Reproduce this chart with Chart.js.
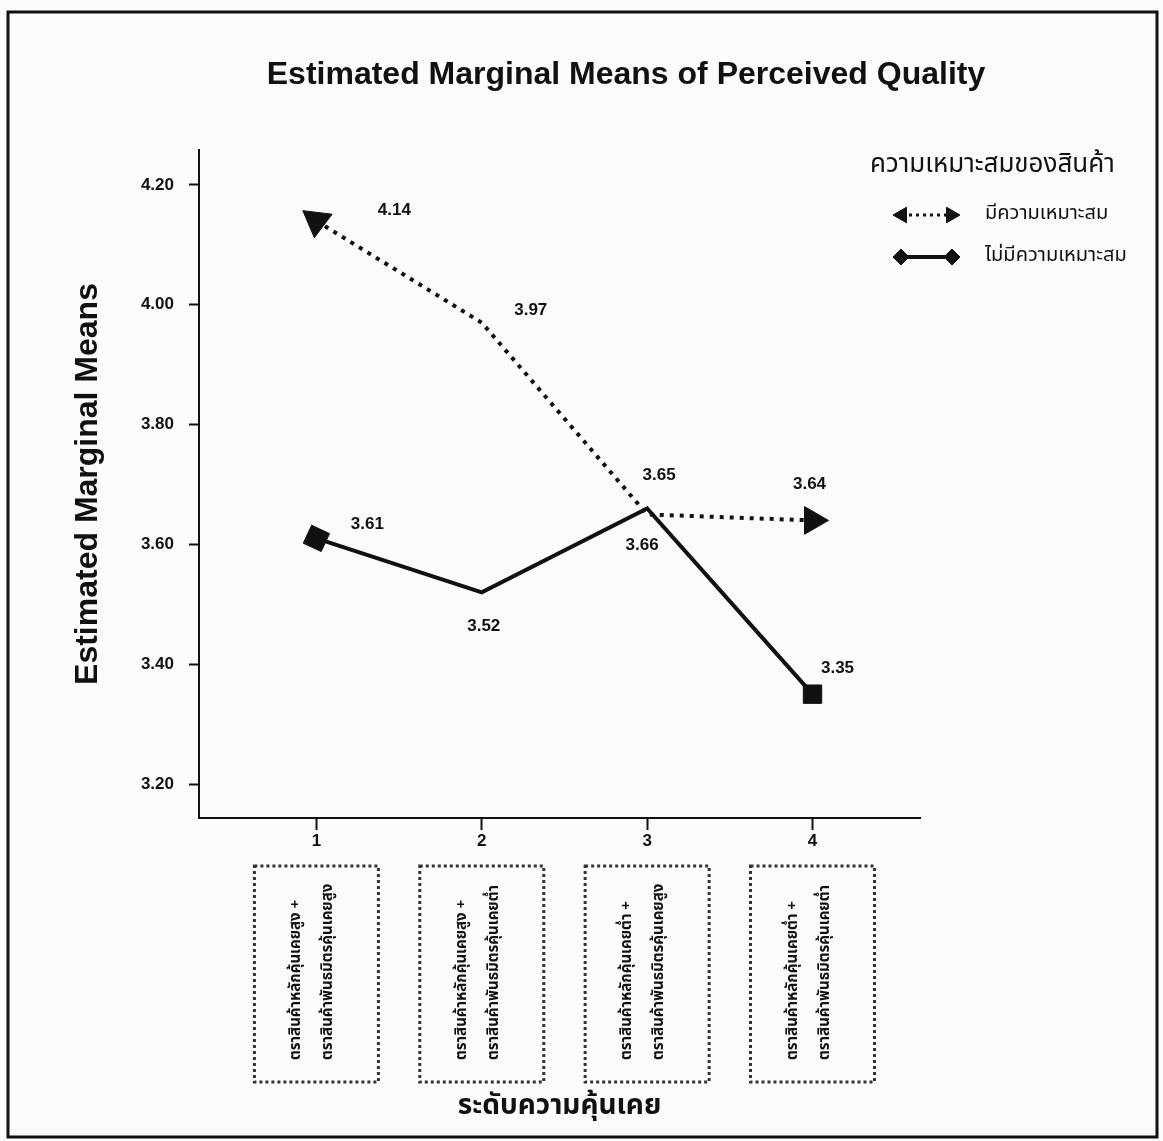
<!DOCTYPE html>
<html>
<head>
<meta charset="utf-8">
<script src="https://cdn.jsdelivr.net/npm/chart.js@4.4.1/dist/chart.umd.min.js"></script>
<style>
  html, body { margin: 0; padding: 0; background: #fbfbfb; }
</style>
</head>
<body>
<canvas id="emm_chart" width="1163" height="1141"></canvas>
<script>
// ระดับความคุ้นเคย (x) และค่าเฉลี่ยของแต่ละกลุ่ม
const levels = [1, 2, 3, 4];
const fitMeans = [4.14, 3.97, 3.65, 3.64];
const noFitMeans = [3.61, 3.52, 3.66, 3.35];
const yTickValues = [3.2, 3.4, 3.6, 3.8, 4.0, 4.2];
const seriesNames = ['มีความเหมาะสม', 'ไม่มีความเหมาะสม'];
const legendTitle = 'ความเหมาะสมของสินค้า';
const levelLines = [
    ['ตราสินค้าหลักคุ้นเคยสูง +', 'ตราสินค้าพันธมิตรคุ้นเคยสูง'],
    ['ตราสินค้าหลักคุ้นเคยสูง +', 'ตราสินค้าพันธมิตรคุ้นเคยต่ำ'],
    ['ตราสินค้าหลักคุ้นเคยต่ำ +', 'ตราสินค้าพันธมิตรคุ้นเคยสูง'],
    ['ตราสินค้าหลักคุ้นเคยต่ำ +', 'ตราสินค้าพันธมิตรคุ้นเคยต่ำ'],
];

const INK = '#111';
const LATIN = "'Liberation Sans', Arial, sans-serif";
const NARROW = "'Liberation Sans Narrow', 'Liberation Sans', sans-serif";
const THAI = "'Noto Sans Thai', 'Loma', 'Garuda', 'Noto Sans', 'DejaVu Sans', sans-serif";

// ตำแหน่งป้ายตัวเลขเทียบกับจุด (dx, dy)
const labelOffsets = [
    [[78, -11], [49, -12], [12, -39], [-3, -36]],
    [[51, -14], [2, 34], [-5, 37], [25, -26]],
];

const decor = {
    id: 'decor',
    beforeDraw(chart) {
        const c = chart.ctx;
        c.save();
        c.fillStyle = '#fbfbfb';
        c.fillRect(0, 0, chart.width, chart.height);
        c.strokeStyle = INK;
        c.lineWidth = 3;
        c.strokeRect(8, 12, 1149, 1125);
        c.restore();
    },
    afterDraw(chart) {
        const c = chart.ctx;
        const xs = chart.scales.x;
        c.save();
        c.fillStyle = INK;

        // ชื่อกราฟ
        c.font = `bold 32px ${NARROW}`;
        c.textAlign = 'center';
        c.textBaseline = 'middle';
        c.fillText('Estimated Marginal Means of Perceived Quality', 626, 75);

        // ตัวเลขกำกับจุด
        c.font = `bold 17px ${LATIN}`;
        chart.data.datasets.forEach((ds, di) => {
            chart.getDatasetMeta(di).data.forEach((pt, i) => {
                const [dx, dy] = labelOffsets[di][i];
                c.fillText(ds.data[i].y.toFixed(2), pt.x + dx, pt.y + dy);
            });
        });

        // คำอธิบาย (legend)
        c.textAlign = 'left';
        c.font = `26px ${THAI}`;
        c.fillText(legendTitle, 870, 167);
        const rows = [215, 257];
        chart.data.datasets.forEach((ds, di) => {
            const y = rows[di];
            c.save();
            c.strokeStyle = INK;
            c.lineWidth = di === 0 ? 3 : 4;
            c.setLineDash(di === 0 ? [3, 4] : []);
            c.beginPath();
            c.moveTo(902, y);
            c.lineTo(950, y);
            c.stroke();
            c.restore();
            c.fillStyle = INK;
            c.strokeStyle = INK;
            c.lineWidth = 1;
            if (di === 0) {
                Chart.helpers.drawPoint(c, {pointStyle: 'triangle', rotation: 270, radius: 9, borderWidth: 1}, 902, y);
                Chart.helpers.drawPoint(c, {pointStyle: 'triangle', rotation: 90, radius: 9, borderWidth: 1}, 951, y);
            } else {
                Chart.helpers.drawPoint(c, {pointStyle: 'rectRot', radius: 8, borderWidth: 1}, 901, y);
                Chart.helpers.drawPoint(c, {pointStyle: 'rectRot', radius: 8, borderWidth: 1}, 952, y);
            }
            c.font = `20px ${THAI}`;
            c.textBaseline = 'middle';
            c.fillText(ds.label, 985, y);
        });

        // กล่องคำอธิบายระดับความคุ้นเคย
        levels.forEach((lv, i) => {
            const cx = xs.getPixelForValue(lv);
            const top = 866, bottom = 1082, w = 124;
            c.save();
            c.strokeStyle = '#333';
            c.lineWidth = 3;
            c.setLineDash([3, 3]);
            c.strokeRect(cx - w / 2, top, w, bottom - top);
            c.restore();
            c.font = `bold 15px ${THAI}`;
            c.textAlign = 'left';
            c.textBaseline = 'middle';
            levelLines[i].forEach((txt, k) => {
                c.save();
                c.translate(cx - 19 + k * 32, bottom - 22);
                c.rotate(-Math.PI / 2);
                c.fillText(txt, 0, 0);
                c.restore();
            });
        });
        c.restore();
    }
};

const ctx = document.getElementById('emm_chart').getContext('2d');
const emmChart = new Chart(ctx, {
    type: 'line',
    data: {
        datasets: [
            {
                label: seriesNames[0],
                data: levels.map((lv, i) => ({x: lv, y: fitMeans[i]})),
                borderColor: INK,
                backgroundColor: INK,
                borderWidth: 4,
                borderDash: [4, 6],
                pointStyle: 'triangle',
                pointRadius: [17, 0, 0, 16],
                pointRotation: [187, 0, 0, 90],
                pointBorderWidth: 1,
                tension: 0,
            },
            {
                label: seriesNames[1],
                data: levels.map((lv, i) => ({x: lv, y: noFitMeans[i]})),
                borderColor: INK,
                backgroundColor: INK,
                borderWidth: 4,
                pointStyle: 'rect',
                pointRadius: [14, 0, 0, 13],
                pointRotation: [25, 0, 0, 0],
                pointBorderWidth: 1,
                tension: 0,
            }
        ]
    },
    options: {
        responsive: false,
        animation: false,
        devicePixelRatio: 1,
        layout: {
            padding: {top: 150, right: 243, left: 0, bottom: 0}
        },
        plugins: {
            legend: {display: false},
            tooltip: {enabled: false},
        },
        scales: {
            x: {
                type: 'linear',
                min: 0.29,
                max: 4.65,
                afterBuildTicks: (s) => { s.ticks = levels.map(v => ({value: v})); },
                afterFit: (s) => { s.height = 323; },
                ticks: {
                    color: INK,
                    font: {family: LATIN, size: 17, weight: 'bold'},
                    padding: 1,
                    maxRotation: 0,
                    autoSkip: false,
                },
                grid: {drawOnChartArea: false, tickLength: 12, tickWidth: 2, tickColor: INK},
                border: {color: INK, width: 2},
                title: {
                    display: true,
                    text: 'ระดับความคุ้นเคย',
                    color: INK,
                    font: {family: THAI, size: 28, weight: 'bold'},
                    padding: {bottom: 16},
                }
            },
            y: {
                type: 'linear',
                min: 3.1433,
                max: 4.2583,
                afterBuildTicks: (s) => { s.ticks = yTickValues.map(v => ({value: v})); },
                afterFit: (s) => { s.width = 199; },
                ticks: {
                    color: INK,
                    font: {family: LATIN, size: 17, weight: 'bold'},
                    padding: 15,
                    callback: (v) => Number(v).toFixed(2),
                },
                grid: {drawOnChartArea: false, tickLength: 10, tickWidth: 2, tickColor: INK},
                border: {color: INK, width: 2},
                title: {
                    display: true,
                    text: 'Estimated Marginal Means',
                    color: INK,
                    font: {family: NARROW, size: 32, weight: 'bold'},
                    padding: {top: 69},
                }
            }
        }
    },
    plugins: [decor]
});
</script>
</body>
</html>
